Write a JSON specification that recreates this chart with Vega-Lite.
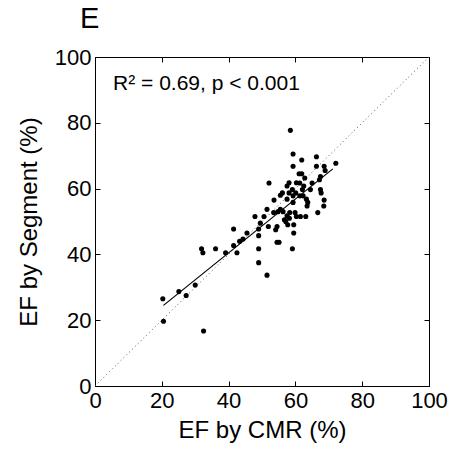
{
  "$schema": "https://vega.github.io/schema/vega-lite/v6.json",
  "width": 334,
  "height": 329,
  "autosize": "none",
  "padding": {"left": 95, "top": 57, "right": 23, "bottom": 74},
  "background": "white",
  "config": {
    "font": "Liberation Sans",
    "view": {"stroke": "black", "strokeWidth": 1},
    "axis": {
      "grid": false,
      "domainColor": "black",
      "tickColor": "black",
      "tickSize": -5,
      "labelColor": "black",
      "titleColor": "black",
      "labelFont": "Liberation Sans",
      "titleFont": "Liberation Sans",
      "labelFontSize": 22,
      "titleFontSize": 24,
      "titleFontWeight": "normal",
      "labelPadding": 9,
      "labelFlush": false
    }
  },
  "title": {"text": "E", "anchor": "start", "frame": "group", "dx": -15, "offset": 12, "fontSize": 29, "font": "Liberation Sans", "fontWeight": "normal", "color": "black"},
  "datasets": {
    "pts": [
      {"cmr": 58.5, "seg": 77.7}, {"cmr": 59.3, "seg": 70.5}, {"cmr": 66.3, "seg": 69.7}, {"cmr": 61.9, "seg": 68.7},
      {"cmr": 72.1, "seg": 67.7}, {"cmr": 59.3, "seg": 66.8}, {"cmr": 66.3, "seg": 66.8}, {"cmr": 68.6, "seg": 66.8},
      {"cmr": 68.9, "seg": 65.5}, {"cmr": 61.1, "seg": 64.5}, {"cmr": 61.9, "seg": 64.5}, {"cmr": 67.5, "seg": 63.7},
      {"cmr": 62.8, "seg": 63.2}, {"cmr": 67.2, "seg": 62.7}, {"cmr": 60.3, "seg": 61.8}, {"cmr": 58.1, "seg": 61.8},
      {"cmr": 52.1, "seg": 61.7}, {"cmr": 65.0, "seg": 61.7}, {"cmr": 61.3, "seg": 61.7}, {"cmr": 57.5, "seg": 60.8},
      {"cmr": 62.5, "seg": 60.8}, {"cmr": 59.1, "seg": 59.7}, {"cmr": 62.1, "seg": 59.7}, {"cmr": 64.5, "seg": 59.7},
      {"cmr": 67.5, "seg": 59.7}, {"cmr": 56.1, "seg": 58.7}, {"cmr": 58.1, "seg": 58.7}, {"cmr": 60.1, "seg": 58.7},
      {"cmr": 67.7, "seg": 58.7}, {"cmr": 55.5, "seg": 58.0}, {"cmr": 59.3, "seg": 57.8}, {"cmr": 61.3, "seg": 57.8},
      {"cmr": 62.3, "seg": 57.8}, {"cmr": 57.5, "seg": 56.8}, {"cmr": 63.3, "seg": 56.8}, {"cmr": 53.6, "seg": 56.5},
      {"cmr": 68.6, "seg": 56.5}, {"cmr": 59.3, "seg": 55.8}, {"cmr": 63.7, "seg": 55.8}, {"cmr": 63.5, "seg": 54.7},
      {"cmr": 68.5, "seg": 54.7}, {"cmr": 51.5, "seg": 53.7}, {"cmr": 55.5, "seg": 53.7}, {"cmr": 53.5, "seg": 52.7},
      {"cmr": 54.8, "seg": 53.0}, {"cmr": 56.3, "seg": 53.0}, {"cmr": 58.3, "seg": 52.7}, {"cmr": 66.7, "seg": 52.7},
      {"cmr": 59.9, "seg": 52.7}, {"cmr": 47.9, "seg": 51.5}, {"cmr": 50.6, "seg": 51.5}, {"cmr": 57.5, "seg": 51.7},
      {"cmr": 60.3, "seg": 51.5}, {"cmr": 61.5, "seg": 51.5}, {"cmr": 63.1, "seg": 51.5}, {"cmr": 56.7, "seg": 50.5},
      {"cmr": 58.2, "seg": 51.0}, {"cmr": 49.5, "seg": 49.5}, {"cmr": 57.1, "seg": 50.0}, {"cmr": 57.7, "seg": 49.0},
      {"cmr": 51.9, "seg": 48.5}, {"cmr": 54.5, "seg": 48.5}, {"cmr": 59.5, "seg": 49.0}, {"cmr": 49.0, "seg": 47.7},
      {"cmr": 41.5, "seg": 47.7}, {"cmr": 54.1, "seg": 47.5}, {"cmr": 45.5, "seg": 46.5}, {"cmr": 59.5, "seg": 46.5},
      {"cmr": 49.0, "seg": 45.7}, {"cmr": 44.3, "seg": 44.7}, {"cmr": 43.3, "seg": 44.0}, {"cmr": 54.5, "seg": 43.7},
      {"cmr": 55.1, "seg": 43.7}, {"cmr": 41.5, "seg": 42.7}, {"cmr": 31.9, "seg": 41.7}, {"cmr": 36.1, "seg": 41.7},
      {"cmr": 49.0, "seg": 41.7}, {"cmr": 59.1, "seg": 41.7}, {"cmr": 32.3, "seg": 40.5}, {"cmr": 39.1, "seg": 40.5},
      {"cmr": 42.5, "seg": 40.5}, {"cmr": 49.0, "seg": 37.5}, {"cmr": 51.5, "seg": 33.7}, {"cmr": 30.0, "seg": 30.7},
      {"cmr": 20.3, "seg": 26.5}, {"cmr": 25.1, "seg": 28.7}, {"cmr": 27.3, "seg": 27.5}, {"cmr": 20.5, "seg": 19.7},
      {"cmr": 32.5, "seg": 16.7}
    ],
    "fit": [{"cmr": 20.5, "seg": 24.5}, {"cmr": 71.2, "seg": 66.0}],
    "identity": [{"cmr": 0, "seg": 0}, {"cmr": 100, "seg": 100}],
    "note": [{"cmr": 5.4, "seg": 90, "label": "R² = 0.69, p < 0.001"}]
  },
  "layer": [
    {
      "data": {"name": "identity"},
      "mark": {"type": "line", "color": "#555555", "strokeWidth": 1, "strokeDash": [1, 3], "clip": true},
      "encoding": {
        "x": {"field": "cmr", "type": "quantitative", "scale": {"domain": [0, 100], "nice": false},
              "axis": {"title": "EF by CMR (%)", "values": [0, 20, 40, 60, 80, 100], "titlePadding": 7}},
        "y": {"field": "seg", "type": "quantitative", "scale": {"domain": [0, 100], "nice": false},
              "axis": {"title": "EF by Segment (%)", "values": [0, 20, 40, 60, 80, 100], "titlePadding": 13}}
      }
    },
    {
      "data": {"name": "fit"},
      "mark": {"type": "line", "color": "black", "strokeWidth": 1.2},
      "encoding": {
        "x": {"field": "cmr", "type": "quantitative", "axis": {"title": null, "labels": false, "values": [0, 20, 40, 60, 80, 100], "domain": false}},
        "y": {"field": "seg", "type": "quantitative", "axis": {"title": null, "labels": false, "values": [0, 20, 40, 60, 80, 100], "domain": false}}
      }
    },
    {
      "data": {"name": "pts"},
      "mark": {"type": "circle", "color": "black", "opacity": 1, "size": 26},
      "encoding": {
        "x": {"field": "cmr", "type": "quantitative", "axis": null},
        "y": {"field": "seg", "type": "quantitative", "axis": null}
      }
    },
    {
      "data": {"name": "note"},
      "mark": {"type": "text", "align": "left", "baseline": "alphabetic", "fontSize": 21, "font": "Liberation Sans", "color": "black"},
      "encoding": {
        "x": {"field": "cmr", "type": "quantitative", "axis": null},
        "y": {"field": "seg", "type": "quantitative", "axis": null},
        "text": {"field": "label"}
      }
    }
  ],
  "resolve": {"axis": {"x": "independent", "y": "independent"}}
}
